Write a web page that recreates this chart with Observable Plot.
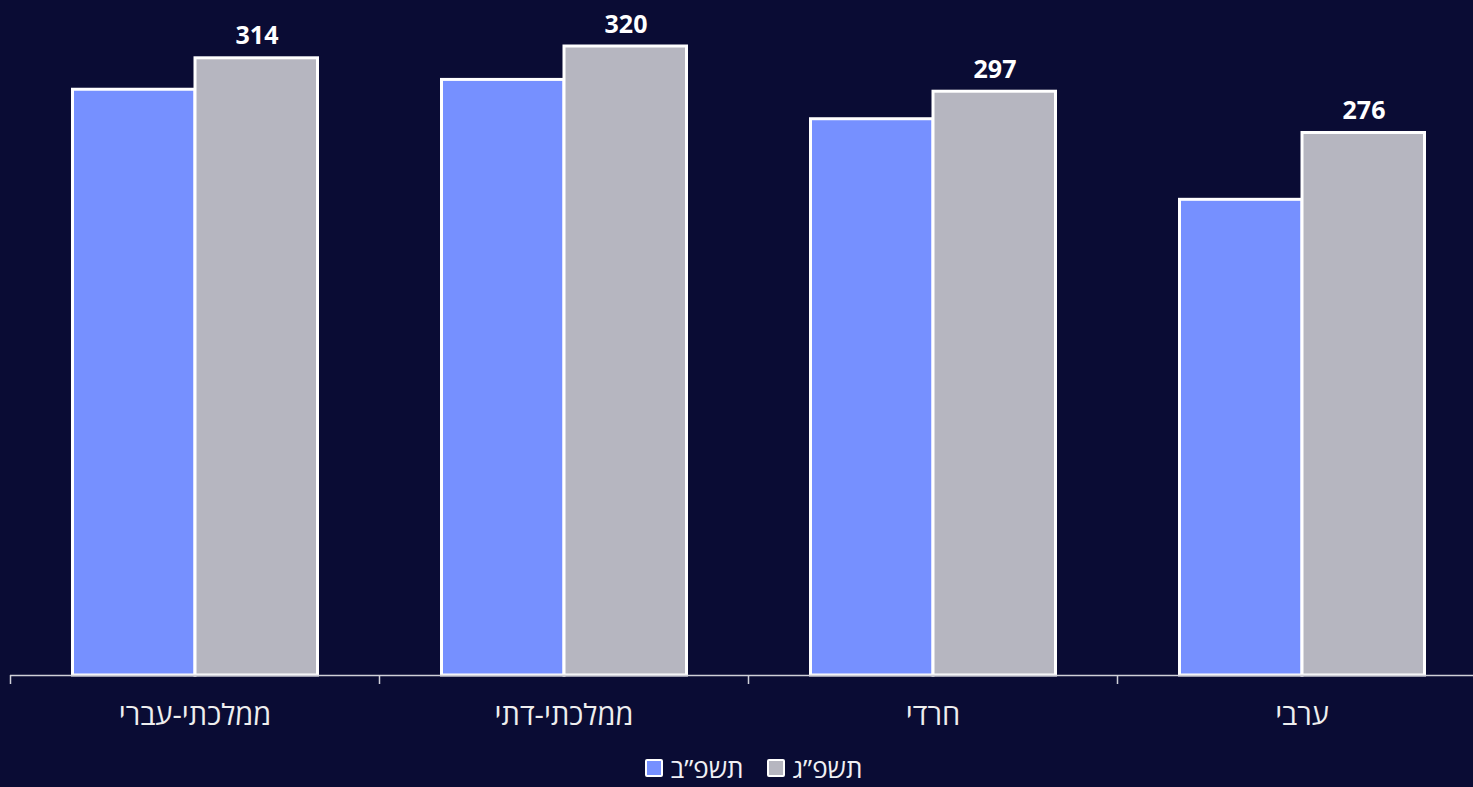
<!DOCTYPE html>
<html lang="he">
<head>
<meta charset="utf-8">
<script src="https://cdn.jsdelivr.net/npm/d3@7"></script>
<script src="https://cdn.jsdelivr.net/npm/@observablehq/plot@0.6"></script>
<style>
  html, body { margin: 0; padding: 0; background: #0a0c34; overflow: hidden; }
  #chart svg { display: block; }
  #legend { display: flex; justify-content: center; align-items: center; height: 35px; gap: 23px; padding-left: 34px;
    font-family: "Open Sans", "DejaVu Sans", sans-serif; font-size: 26px; line-height: 1; color: #f0f0f4; direction: ltr; }
  .item { display: flex; align-items: center; gap: 8px; }
  .sw { width: 14px; height: 14px; border: 2px solid #ffffff; border-radius: 2px; }
</style>
</head>
<body>
<div id="chart"></div>
<div id="legend"></div>
<script>
const categories = ["ממלכתי-עברי", "ממלכתי-דתי", "חרדי", "ערבי"];
const seriesNames = ["תשפ\u201Dב", "תשפ\u201Dג"];
const valuesB = [298, 303, 283, 242];
const valuesG = [314, 320, 297, 276];
const colors = ["#7690ff", "#b6b6c0"];

const rowsB = categories.map((c, i) => ({category: c, value: valuesB[i]}));
const rowsG = categories.map((c, i) => ({category: c, value: valuesG[i]}));

const chart = Plot.plot({
  width: 1473,
  height: 750,
  marginLeft: 10,
  marginRight: 0,
  marginTop: 46,
  marginBottom: 75,
  style: {background: "#0a0c34", color: "#eeeeee", fontFamily: "'Open Sans', 'DejaVu Sans', sans-serif"},
  x: {domain: categories, range: [10, 1486], padding: 0, label: null},
  y: {domain: [0, 320], axis: null},
  marks: [
    Plot.barY(rowsB, {x: "category", y: "value", fill: colors[0], stroke: "#ffffff", strokeWidth: 3, insetLeft: 62.5, insetRight: 184}),
    Plot.barY(rowsG, {x: "category", y: "value", fill: colors[1], stroke: "#ffffff", strokeWidth: 3, insetLeft: 185, insetRight: 61.5}),
    Plot.text(rowsG, {x: "category", y: "value", text: d => String(d.value), dx: 62, dy: -22, fill: "#ffffff", fontSize: 25, fontWeight: "bold"}),
    Plot.ruleY([0], {stroke: "#d0d0d8", strokeWidth: 1.5}),
    Plot.axisX({tickSize: 9, tickFormat: () => "", dx: -184.5, stroke: "#d0d0d8", strokeWidth: 1.5}),
    Plot.axisX({tickSize: 0, tickPadding: 29, fontSize: 29, fill: "#eeeeee"})
  ]
});
document.getElementById("chart").appendChild(chart);

const legend = document.getElementById("legend");
seriesNames.forEach((name, i) => {
  const item = document.createElement("div");
  item.className = "item";
  const sw = document.createElement("div");
  sw.className = "sw";
  sw.style.background = colors[i];
  const lab = document.createElement("span");
  lab.textContent = name;
  lab.dir = "rtl";
  item.appendChild(sw);
  item.appendChild(lab);
  legend.appendChild(item);
});
</script>
</body>
</html>
